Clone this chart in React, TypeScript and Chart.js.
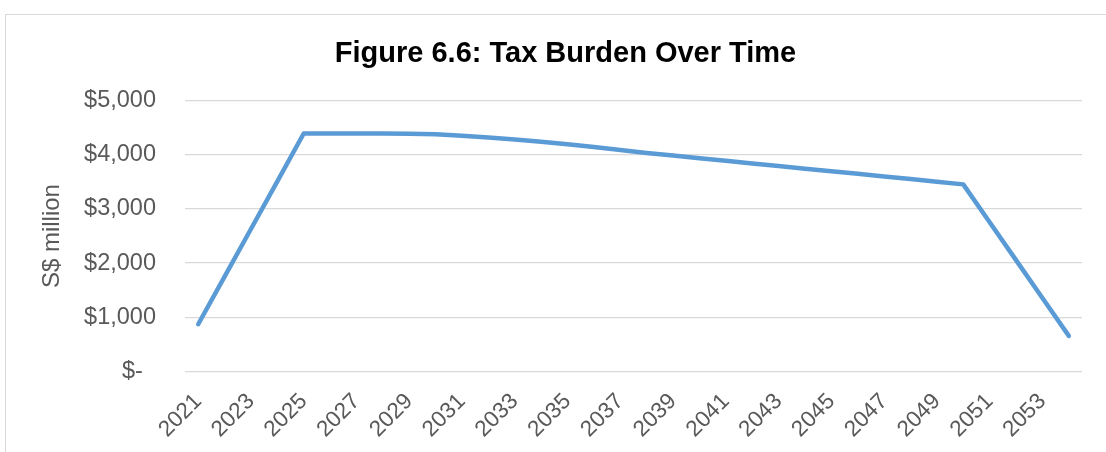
import React, { useEffect, useRef } from "react";
import { Chart, registerables } from "chart.js";

Chart.register(...registerables);

const years: string[] = [
  "2021", "2022", "2023", "2024", "2025", "2026", "2027", "2028", "2029", "2030",
  "2031", "2032", "2033", "2034", "2035", "2036", "2037", "2038", "2039", "2040",
  "2041", "2042", "2043", "2044", "2045", "2046", "2047", "2048", "2049", "2050",
  "2051", "2052", "2053", "2054",
];

const taxBurden: number[] = [
  870, 1750, 2630, 3510, 4395, 4395, 4395, 4394, 4390, 4380,
  4355, 4322, 4284, 4243, 4198, 4145, 4090, 4037, 3988, 3940,
  3891, 3843, 3795, 3746, 3698, 3650, 3601, 3553, 3504, 3455,
  2755, 2055, 1355, 655,
];

const yTicks: number[] = [0, 1000, 2000, 3000, 4000, 5000];

const titleText = "Figure 6.6: Tax Burden Over Time";
const yTitleText = "S$ million";

const CW = 1119;
const CH = 440;

export default function App() {
  const ref = useRef<HTMLCanvasElement | null>(null);

  useEffect(() => {
    document.documentElement.style.overflow = "hidden";
    document.body.style.overflow = "hidden";
    const canvas = ref.current;
    if (!canvas) return;
    const chart = new Chart(canvas, {
      type: "line",
      data: {
        labels: years,
        datasets: [
          {
            label: "Tax burden",
            data: taxBurden,
            borderColor: "#5b9bd5",
            backgroundColor: "#5b9bd5",
            borderWidth: 4.5,
            borderCapStyle: "round",
            borderJoinStyle: "round",
            pointRadius: 0,
            tension: 0,
            fill: false,
            yAxisID: "y",
          },
        ],
      },
      options: {
        responsive: false,
        animation: false,
        layout: { padding: { left: 0, right: 0, top: 0, bottom: 0 } },
        plugins: {
          legend: { display: false },
          tooltip: { enabled: false },
          title: {
            display: true,
            text: titleText,
            color: "#000000",
            font: { family: "'Liberation Sans', Arial, sans-serif", size: 29, weight: "bold" },
            padding: { top: 22, bottom: 29 },
          },
        },
        scales: {
          x: {
            type: "category",
            offset: true,
            grid: { display: false, drawTicks: false },
            border: { display: false },
            ticks: {
              autoSkip: false,
              minRotation: 45,
              maxRotation: 45,
              padding: 17,
              color: "#595959",
              font: { family: "'Liberation Sans', Arial, sans-serif", size: 22.5 },
              callback: function (_v: any, i: number) {
                return i % 2 === 0 ? years[i] : "";
              },
            },
            afterFit: (scale: any) => {
              scale.height = CH - 356.3;
            },
          },
          y: {
            min: 0,
            max: 5000,
            afterBuildTicks: (scale: any) => {
              scale.ticks = yTicks.map((v) => ({ value: v }));
            },
            grid: { color: "#d9d9d9", lineWidth: 1.3, drawTicks: false },
            border: { display: false },
            ticks: {
              padding: 29,
              color: "#595959",
              font: { family: "'Liberation Sans', Arial, sans-serif", size: 23.5 },
              callback: (v: any) =>
                Number(v) === 0 ? "$-  " : "$" + Number(v).toLocaleString("en-US"),
            },
            title: {
              display: true,
              text: yTitleText,
              color: "#595959",
              font: { family: "'Liberation Sans', Arial, sans-serif", size: 24 },
              padding: { top: 32, bottom: 0 },
            },
            afterFit: (scale: any) => {
              scale.width = 179;
            },
          },
          yRight: {
            position: "right",
            min: 0,
            max: 5000,
            grid: { display: false, drawTicks: false },
            border: { display: false },
            ticks: { display: false },
            afterFit: (scale: any) => {
              scale.width = 43;
            },
          },
        },
      },
    });
    return () => chart.destroy();
  }, []);

  return (
    <div
      style={{
        position: "absolute",
        left: 5,
        top: 14,
        width: 1200,
        height: 500,
        borderLeft: "1px solid #d9d9d9",
        borderTop: "1px solid #d9d9d9",
        background: "#ffffff",
      }}
    >
      <canvas ref={ref} width={CW} height={CH} style={{ display: "block" }} />
    </div>
  );
}
